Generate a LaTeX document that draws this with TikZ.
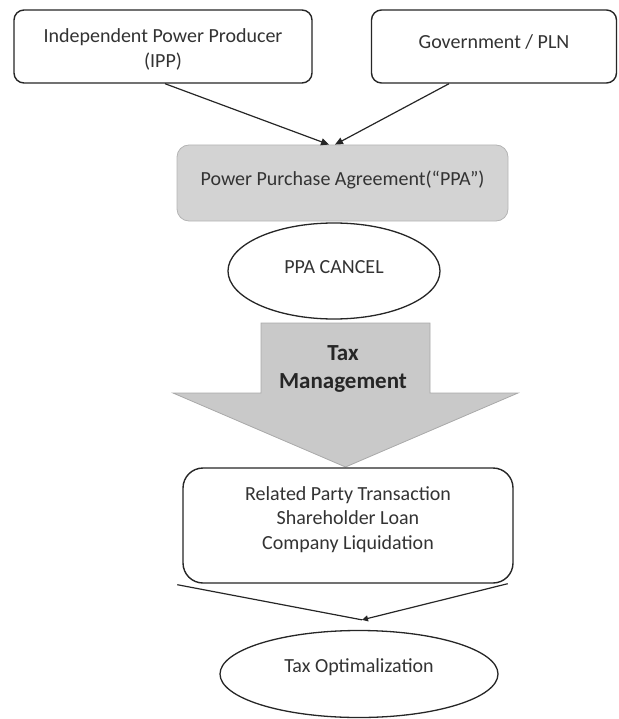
\documentclass[tikz,border=0pt]{standalone}
\usepackage{fontspec}
\setmainfont{Carlito}
\usetikzlibrary{shapes.geometric,arrows.meta,calc}
\definecolor{txt}{HTML}{333333}
\definecolor{ppafill}{HTML}{D3D3D3}
\definecolor{ppaline}{HTML}{B4B4B4}
\definecolor{arrfill}{HTML}{C9C9C9}
\definecolor{arrline}{HTML}{A9A9A9}
\begin{document}
\begin{tikzpicture}[x=1pt,y=-1pt,
  every node/.style={text=txt},
  basefont/.style={font=\fontsize{20}{24.5}\selectfont},
  whitebox/.style={draw=black!85, line width=1.4pt, fill=white, rounded corners=10pt, inner sep=0pt},
  graybox/.style={draw=ppaline, line width=0.8pt, fill=ppafill, rounded corners=12pt, inner sep=0pt},
  oval/.style={ellipse, draw=black!85, line width=1.3pt, fill=white, inner sep=0pt},
  conn/.style={draw=black!85, line width=1.2pt, -{Triangle[length=8pt,width=7pt]}},
  lbl/.style={basefont, align=center, text=txt}
]
\useasboundingbox (0,0) rectangle (618,719);

% top boxes
\node[whitebox, minimum width=298pt, minimum height=73pt,
      label={[lbl, yshift=-3pt]center:Independent Power Producer\\(IPP)}] (ipp) at (163,46.5) {};
\node[whitebox, minimum width=245pt, minimum height=73pt,
      label={[lbl, yshift=5pt]center:Government / PLN}] (gov) at (494,46.5) {};

% PPA box
\node[graybox, minimum width=331pt, minimum height=76pt,
      label={[lbl, yshift=3pt]center:Power Purchase Agreement(“PPA”)}] (ppa) at (342.5,183) {};

% connectors to PPA
\coordinate (ippout) at ($(ipp.south)+(2,0)$);
\coordinate (govout) at ($(gov.south)+(-45,0)$);
\coordinate (ppainl) at ($(ppa.north)+(-13.5,0)$);
\coordinate (ppainr) at ($(ppa.north)+(-7.5,0)$);
\draw[conn] (ippout) -- (ppainl);
\draw[conn] (govout) -- (ppainr);

% PPA CANCEL
\node[oval, minimum width=212pt, minimum height=96pt,
      label={[lbl, yshift=4pt]center:PPA CANCEL}] (cancel) at (334,271) {};

% block arrow
\path[fill=arrfill, draw=arrline, line width=0.8pt]
  (261,323) -- (430,323) -- (430,393) -- (518,393) -- (345.5,467)
  -- (173,393) -- (261,393) -- cycle;
\node[align=center, font=\bfseries\fontsize{23}{28}\selectfont, text=black!85] (taxm) at (343,369) {Tax\\Management};

% Related box
\node[whitebox, rounded corners=20pt, minimum width=330pt, minimum height=115pt,
      label={[lbl, yshift=6pt]center:Related Party Transaction\\Shareholder Loan\\Company Liquidation}] (rel) at (348,525.5) {};

% Tax Optimalization
\node[oval, minimum width=278pt, minimum height=87pt,
      label={[lbl, yshift=7pt]center:Tax Optimalization}] (opt) at (359,674) {};

\coordinate (rl) at ($(rel.south west)+(-5,1)$);
\coordinate (rr) at ($(rel.south east)+(-6,0)$);
\coordinate (meet) at ($(opt.north)+(3,-10)$);
\draw[draw=black!85, line width=1.2pt] (rl) -- (meet);
\draw[conn, -{Triangle[length=6pt,width=6pt]}] (rr) -- (meet);
\end{tikzpicture}
\end{document}
